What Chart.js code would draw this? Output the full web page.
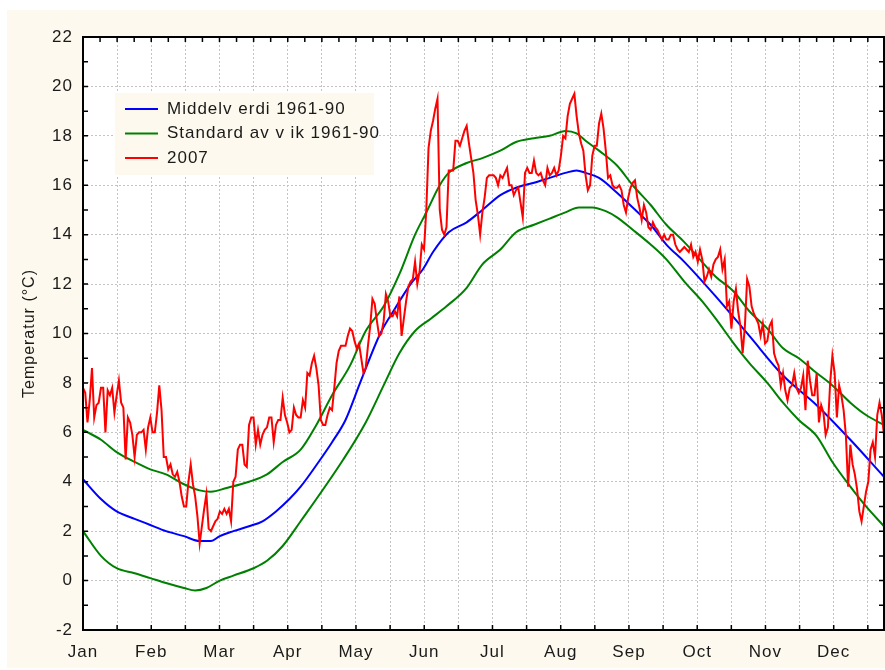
<!DOCTYPE html>
<html>
<head>
<meta charset="utf-8">
<script src="https://cdn.jsdelivr.net/npm/chart.js@4.4.0/dist/chart.umd.min.js"></script>
<style>
  html, body { margin: 0; background: #ffffff; }
  #wrap { position: absolute; left: 7px; top: 10px; width: 878px; height: 658px; background: #fdf9ee; }
</style>
</head>
<body>
<div id="wrap"><canvas id="temp-chart" width="878" height="658"></canvas></div>
<script>
// x axis is day of year (0 = 1 Jan)
const monthNames = ['Jan', 'Feb', 'Mar', 'Apr', 'May', 'Jun', 'Jul', 'Aug', 'Sep', 'Oct', 'Nov', 'Dec'];

// daily temperatures 2007
const redTemps = [
  7.8, 7.6, 6.4, 7.3, 8.6, 6.6, 7.1, 7.2, 7.8, 7.8,
  6.0, 7.7, 7.5, 7.8, 6.8, 7.5, 8.1, 7.2, 7.0, 4.9,
  6.6, 6.4, 5.9, 5.0, 5.9, 6.0, 6.0, 6.1, 5.3, 6.2,
  6.6, 6.0, 6.0, 6.8, 7.9, 6.9, 5.0, 5.0, 4.5, 4.7,
  4.3, 4.2, 4.4, 4.0, 3.4, 3.0, 3.0, 4.0, 4.7, 3.9,
  3.4, 2.6, 1.5, 2.2, 2.9, 3.5, 2.1, 2.0, 2.2, 2.4,
  2.5, 2.8, 2.7, 2.9, 2.7, 2.9, 2.4, 4.0, 4.2, 5.3,
  5.5, 5.5, 4.7, 4.6, 6.3, 6.6, 6.6, 5.5, 6.1, 5.5,
  5.9, 6.1, 6.2, 6.6, 6.6, 5.6, 6.3, 6.5, 6.5, 7.4,
  6.7, 6.4, 6.0, 6.1, 7.0, 6.7, 6.6, 6.6, 7.3, 7.0,
  8.4, 8.3, 8.8, 9.1, 8.6, 7.9, 6.5, 6.3, 6.3, 6.7,
  7.0, 6.9, 7.8, 8.8, 9.3, 9.5, 9.5, 9.5, 9.9, 10.2,
  10.1, 9.7, 9.4, 9.6, 9.0, 8.4, 8.6, 9.5, 10.3, 11.4,
  11.2, 10.5, 9.9, 10.0, 10.5, 11.6, 11.3, 10.7, 10.7, 10.9,
  10.7, 11.5, 9.9, 10.6, 11.3, 11.9, 12.1, 12.2, 12.9, 12.0,
  12.5, 13.6, 13.4, 15.0, 17.5, 18.2, 18.6, 19.1, 19.5, 15.0,
  14.2, 14.0, 14.3, 16.6, 16.6, 16.6, 17.8, 17.8, 17.6, 17.9,
  18.2, 18.4, 17.7, 17.1, 16.5, 15.4, 14.8, 14.0, 14.9, 15.5,
  16.3, 16.4, 16.4, 16.4, 16.3, 16.0, 16.4, 16.3, 16.5, 16.7,
  16.0, 16.0, 15.6, 15.8, 15.9, 15.3, 14.7, 16.5, 16.7, 16.5,
  16.5, 17.0, 16.5, 16.4, 16.5, 16.2, 16.0, 16.7, 16.4, 16.5,
  16.7, 16.4, 16.6, 17.2, 18.0, 17.9, 18.8, 19.3, 19.5, 19.7,
  18.8, 18.1, 17.7, 17.4, 16.4, 15.8, 16.0, 17.2, 17.6, 17.6,
  18.5, 18.9, 18.3, 17.4, 16.3, 16.4, 16.0, 15.9, 15.9, 16.0,
  15.8, 15.2, 14.9, 15.5, 15.9, 16.1, 16.2, 15.5, 15.1, 14.6,
  15.2, 14.9, 14.3, 14.2, 14.5, 14.3, 14.2, 14.0, 13.8, 14.0,
  13.8, 13.8, 14.0, 14.0, 13.6, 13.4, 13.3, 13.4, 13.5, 13.4,
  13.3, 13.6, 13.1, 13.3, 12.9, 13.4, 13.0, 12.1, 12.3, 12.6,
  12.3, 12.8, 13.0, 13.1, 13.4, 12.6, 13.0, 11.1, 11.3, 10.2,
  11.3, 11.8, 10.9, 10.3, 9.2, 10.3, 12.2, 11.9, 11.1, 10.8,
  10.6, 10.4, 9.9, 10.4, 9.6, 9.7, 10.3, 10.5, 9.2, 8.9,
  8.7, 7.9, 8.4, 7.7, 7.3, 7.8, 7.9, 8.4, 7.8, 7.6,
  7.8, 8.3, 6.9, 8.9, 8.1, 7.5, 7.5, 8.4, 6.4, 7.1,
  6.8, 5.9, 6.2, 8.0, 9.1, 8.4, 6.6, 7.9, 7.5, 6.9,
  5.9, 3.8, 5.5, 4.7, 4.3, 3.7, 2.8, 2.4, 3.0, 3.6,
  4.0, 5.3, 5.6, 5.0, 6.7, 7.2, 6.7, 5.9
];

// normal 1961-90
const meanDays  = [0, 8, 15, 23, 30, 37, 45, 52, 57, 61, 67, 74, 80, 86, 92, 97, 105, 111, 117, 123.5, 132.5, 139, 146, 151.5, 156, 163, 171, 178, 186, 193, 201, 208, 215, 220, 224, 230, 238, 245, 253, 260, 268, 282, 297, 312, 327, 342, 357];
const meanTemps = [4.1, 3.3, 2.8, 2.5, 2.25, 2.0, 1.8, 1.6, 1.6, 1.8, 2.0, 2.2, 2.4, 2.8, 3.3, 3.8, 4.8, 5.6, 6.5, 8.0, 10.0, 11.0, 12.0, 12.6, 13.3, 14.1, 14.5, 15.0, 15.6, 15.9, 16.1, 16.3, 16.5, 16.6, 16.5, 16.3, 15.7, 15.1, 14.4, 13.6, 12.9, 11.5, 9.9, 8.3, 7.1, 5.7, 4.2];

// mean + standard deviation
const upperDays  = [0, 8, 15, 23, 30, 37, 45, 52, 57, 64, 74, 82, 89, 97, 104, 111, 119, 126, 134, 141, 148, 153, 159, 163, 171, 178, 186, 193, 201, 208, 215, 220, 224, 230, 238, 245, 253, 260, 268, 282, 290, 297, 305, 312, 319, 327, 334, 342, 349, 357];
const upperTemps = [6.1, 5.7, 5.2, 4.8, 4.5, 4.3, 3.9, 3.65, 3.6, 3.75, 4.0, 4.3, 4.8, 5.3, 6.3, 7.5, 8.7, 10.1, 11.1, 12.4, 14.0, 14.9, 16.0, 16.5, 16.9, 17.1, 17.4, 17.75, 17.9, 18.0, 18.2, 18.1, 17.8, 17.4, 16.8, 16.0, 15.2, 14.4, 13.7, 12.3, 11.7, 10.9, 10.2, 9.4, 9.0, 8.4, 7.9, 7.2, 6.7, 6.3];

// mean - standard deviation
const lowerDays  = [0, 8, 15, 23, 30, 37, 45, 50, 55, 61, 67, 76, 82, 89, 97, 116, 126, 134, 141, 148, 155, 162, 171, 178, 186, 193, 201, 208, 215, 221, 227, 233, 238, 245, 253, 260, 268, 276, 282, 290, 297, 305, 312, 319, 327, 334, 342, 349, 357];
const lowerTemps = [2.0, 1.0, 0.5, 0.3, 0.1, -0.1, -0.3, -0.4, -0.3, 0.0, 0.2, 0.5, 0.8, 1.4, 2.4, 4.9, 6.4, 7.9, 9.2, 10.1, 10.6, 11.1, 11.85, 12.8, 13.4, 14.1, 14.4, 14.65, 14.9, 15.1, 15.1, 14.95, 14.7, 14.2, 13.6, 13.0, 12.1, 11.3, 10.6, 9.6, 8.8, 8.0, 7.2, 6.5, 5.85, 4.8, 3.8, 3.0, 2.2];

const legendOrder = [1, 2, 0];
const tickFont = { family: '"Liberation Sans", Arial, sans-serif', size: 17 };
const textColor = '#1a1a1a';

const toPoints = (days, temps) => days.map((d, i) => ({ x: d, y: temps[i] }));

const plotBackground = {
  id: 'plotBackground',
  beforeDraw(chart) {
    const { ctx, chartArea } = chart;
    ctx.letterSpacing = '1px';
    ctx.save();
    ctx.fillStyle = '#ffffff';
    ctx.fillRect(chartArea.left, chartArea.top, chartArea.width, chartArea.height);
    ctx.restore();
  }
};

const boxLegend = {
  id: 'boxLegend',
  afterDatasetsDraw(chart) {
    const { ctx, chartArea } = chart;
    const x0 = chartArea.left + 32, y0 = chartArea.top + 56;
    ctx.save();
    ctx.fillStyle = '#fdf9ee';
    ctx.fillRect(x0, y0, 259, 82);
    ctx.font = '17px "Liberation Sans", Arial, sans-serif';
    ctx.textBaseline = 'middle';
    legendOrder.forEach((dsIndex, row) => {
      const ds = chart.data.datasets[dsIndex];
      const y = y0 + 16 + row * 24.5;
      ctx.strokeStyle = ds.borderColor;
      ctx.lineWidth = 2;
      ctx.beginPath();
      ctx.moveTo(x0 + 10, y);
      ctx.lineTo(x0 + 43, y);
      ctx.stroke();
      ctx.fillStyle = textColor;
      ctx.fillText(ds.label, x0 + 52, y);
    });
    ctx.restore();
  }
};

const frameTicks = {
  id: 'frameTicks',
  afterDraw(chart) {
    const { ctx, chartArea: a, scales } = chart;
    ctx.save();
    ctx.strokeStyle = '#000000';
    ctx.lineWidth = 2;
    ctx.strokeRect(a.left, a.top, a.width, a.height);
    ctx.lineWidth = 1.5;
    ctx.beginPath();
    for (let v = scales.y.min; v <= scales.y.max; v++) {
      const py = scales.y.getPixelForValue(v);
      ctx.moveTo(a.left, py); ctx.lineTo(a.left + 5, py);
      ctx.moveTo(a.right, py); ctx.lineTo(a.right - 5, py);
    }
    for (let i = 1; i * 365 / 48 < scales.x.max; i++) {
      const px = scales.x.getPixelForValue(i * 365 / 48);
      ctx.moveTo(px, a.top); ctx.lineTo(px, a.top + 5);
      if (i % 2 === 0) { ctx.moveTo(px, a.bottom); ctx.lineTo(px, a.bottom - 5); }
    }
    ctx.stroke();
    ctx.restore();
  }
};

new Chart(document.getElementById('temp-chart'), {
  type: 'line',
  data: {
    datasets: [
      {
        label: '2007',
        data: redTemps.map((t, i) => ({ x: i, y: t })),
        borderColor: '#ff0000',
        borderWidth: 2,
        pointRadius: 0,
        tension: 0
      },
      {
        label: 'Middelv erdi 1961-90',
        data: toPoints(meanDays, meanTemps),
        borderColor: '#0000ff',
        borderWidth: 2,
        pointRadius: 0,
        cubicInterpolationMode: 'monotone'
      },
      {
        label: 'Standard av v ik 1961-90',
        data: toPoints(upperDays, upperTemps),
        borderColor: '#008000',
        borderWidth: 2,
        pointRadius: 0,
        cubicInterpolationMode: 'monotone'
      },
      {
        label: 'Standard av v ik 1961-90 (lower)',
        data: toPoints(lowerDays, lowerTemps),
        borderColor: '#008000',
        borderWidth: 2,
        pointRadius: 0,
        cubicInterpolationMode: 'monotone'
      }
    ]
  },
  options: {
    responsive: false,
    animation: false,
    layout: { padding: { left: 0, top: 27, right: 1, bottom: 0 } },
    plugins: {
      legend: { display: false },
      tooltip: { enabled: false },
      title: { display: false }
    },
    scales: {
      x: {
        type: 'linear',
        min: 0,
        max: 357,
        afterBuildTicks: (scale) => {
          scale.ticks = Array.from({ length: 24 }, (_, i) => ({ value: i * 365 / 24 }));
        },
        afterFit: (scale) => { scale.height = 38; },
        ticks: {
          autoSkip: false,
          maxRotation: 0,
          padding: 12,
          color: textColor,
          font: tickFont,
          callback: (value, index) => (index % 2 === 0 ? monthNames[index / 2] : '')
        },
        grid: { color: '#c4c4c4', lineWidth: 1, drawTicks: false },
        border: { display: false, dash: [2, 2] }
      },
      y: {
        min: -2,
        max: 22,
        afterFit: (scale) => { scale.width = 76; },
        ticks: { stepSize: 2, padding: 10, color: textColor, font: tickFont },
        grid: { color: '#c4c4c4', lineWidth: 1, drawTicks: false },
        border: { display: false, dash: [2, 2] },
        title: {
          display: true,
          text: 'Temperatur (°C)',
          color: textColor,
          font: { family: '"Liberation Sans", Arial, sans-serif', size: 16 },
          padding: { top: 13, bottom: 0 }
        }
      }
    }
  },
  plugins: [plotBackground, boxLegend, frameTicks]
});
</script>
</body>
</html>
